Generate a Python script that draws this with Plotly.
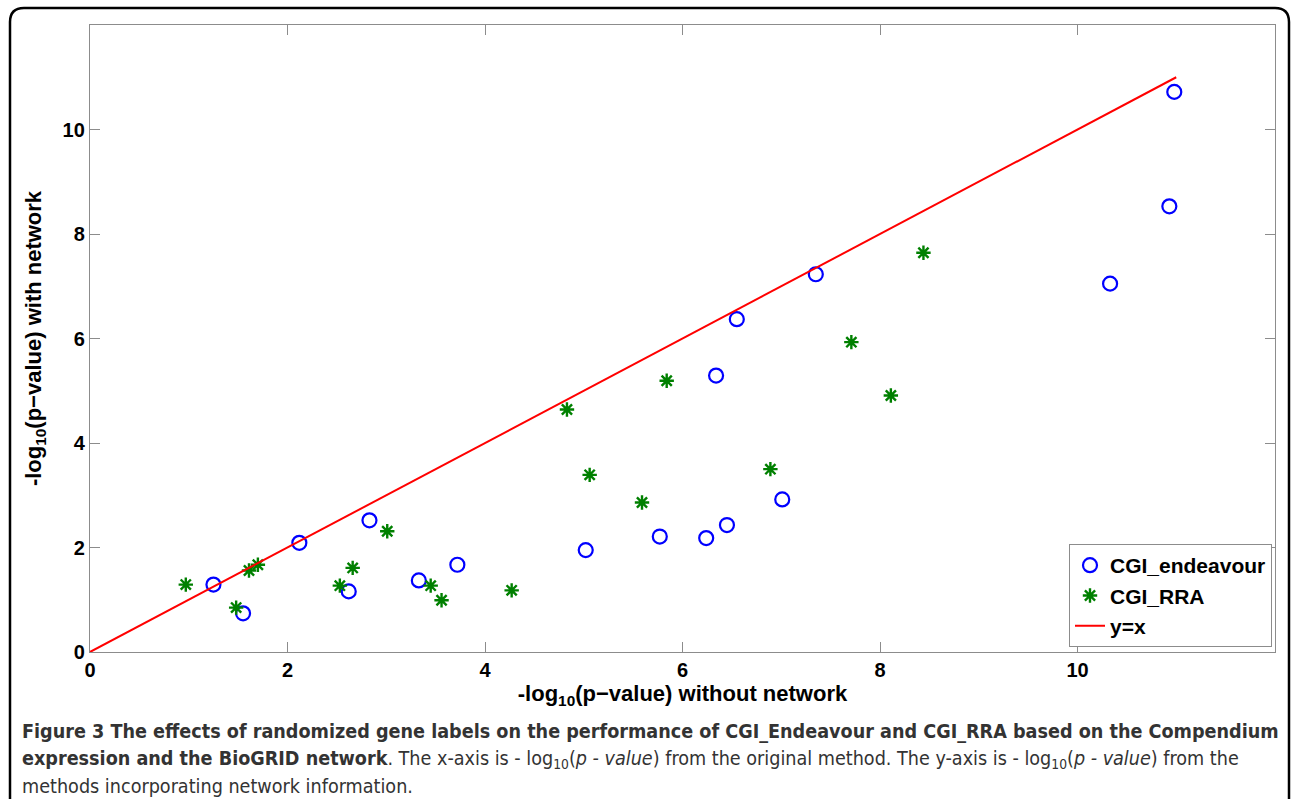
import plotly.graph_objects as go

# ---- data ----
endeavour_x = [1.25, 1.55, 2.12, 2.62, 2.83, 3.33, 3.72, 5.02, 5.77, 6.24, 6.45, 6.34, 6.55, 7.01, 7.35, 10.33, 10.93, 10.98]
endeavour_y = [1.29, 0.74, 2.09, 1.16, 2.52, 1.37, 1.67, 1.95, 2.21, 2.18, 2.43, 5.29, 6.37, 2.92, 7.23, 7.05, 8.53, 10.72]

rra_x = [0.97, 1.48, 1.61, 1.70, 2.53, 2.66, 3.01, 3.45, 3.56, 4.27, 4.83, 5.06, 5.59, 5.84, 6.89, 7.71, 8.11, 8.44]
rra_y = [1.29, 0.85, 1.56, 1.67, 1.27, 1.61, 2.31, 1.27, 0.99, 1.18, 4.64, 3.39, 2.86, 5.19, 3.50, 5.93, 4.91, 7.64]

line_x = [0, 11]
line_y = [0, 11]

x_ticks = [0, 2, 4, 6, 8, 10]
y_ticks = [0, 2, 4, 6, 8, 10]

# ---- layout geometry (pixels) ----
W, H = 1292, 799
L, R, T, B = 90, 17, 25, 147
PW, PH = W - L - R, H - T - B


def px(x):
    return (x - L) / PW


def py(y):
    return (H - B - y) / PH


SANS = "Liberation Sans, Arial, sans-serif"
TITLE_FONT = dict(family=SANS, size=22, color="black")

fig = go.Figure()
fig.add_trace(go.Scatter(
    x=endeavour_x, y=endeavour_y, mode="markers", name="<b>CGI_endeavour</b>",
    marker=dict(symbol="circle-open", size=14, color="#0000ff", line=dict(width=2.2, color="#0000ff")),
))
fig.add_trace(go.Scatter(
    x=rra_x, y=rra_y, mode="markers", name="<b>CGI_RRA</b>",
    marker=dict(symbol="asterisk-open", size=12, color="#008000", line=dict(width=2.4, color="#008000")),
))
fig.add_trace(go.Scatter(
    x=line_x, y=line_y, mode="lines", name="<b>y=x</b>",
    line=dict(color="#ff0000", width=2),
))

axis_common = dict(
    showgrid=False, zeroline=False, showline=True, linecolor="#8c8c8c", linewidth=1.3,
    mirror="ticks", ticks="inside", ticklen=10, tickcolor="#8c8c8c", tickwidth=1.3,
    tickfont=dict(family=SANS, size=20, color="black"),
)

fig.update_xaxes(
    range=[0, 12], tickvals=x_ticks, ticktext=[f"<b>{v}</b>" for v in x_ticks],
    title=dict(text="<b>-log<sub>10</sub>(p\u2212value) without network</b>", font=TITLE_FONT, standoff=2),
    **axis_common,
)
fig.update_yaxes(
    range=[0, 12], tickvals=y_ticks, ticktext=[f"<b>{v}</b>" for v in y_ticks],
    title=dict(text="<b>-log<sub>10</sub>(p\u2212value) with network</b>", font=TITLE_FONT, standoff=14),
    **axis_common,
)

# rounded outer frame
r = 14
x0, x1, y0, y1 = 10, 1289, 8, 830
path = (
    f"M {px(x0)} {py(y1)} L {px(x0)} {py(y0 + r)} Q {px(x0)} {py(y0)} {px(x0 + r)} {py(y0)} "
    f"L {px(x1 - r)} {py(y0)} Q {px(x1)} {py(y0)} {px(x1)} {py(y0 + r)} L {px(x1)} {py(y1)}"
)
fig.add_shape(type="path", path=path, xref="paper", yref="paper",
              line=dict(color="black", width=2.5), layer="below")

CAP = "Liberation Sans Narrow, DejaVu Sans Condensed, Roboto, sans-serif"
cap_lines = [
    ("<b>Figure 3 The effects of randomized gene labels on the performance of CGI_Endeavour and CGI_RRA based on the Compendium</b>", 731),
    ("<b>expression and the BioGRID network</b>. The x-axis is - log<sub>10</sub>(<i>p - value</i>) from the original method. "
     "The y-axis is - log<sub>10</sub>(<i>p - value</i>) from the", 759),
    ("methods incorporating network information.", 786),
]
for txt, yy in cap_lines:
    fig.add_annotation(text=txt, x=px(20), y=py(yy), xref="paper", yref="paper",
                       xanchor="left", yanchor="middle", showarrow=False,
                       font=dict(family=CAP, size=19.6, color="#333333"))

fig.update_layout(
    width=W, height=H, margin=dict(l=L, r=R, t=T, b=B),
    plot_bgcolor="white", paper_bgcolor="white",
    font=dict(family=SANS, color="black"),
    legend=dict(
        x=1 - 3 / PW, y=5 / PH, xanchor="right", yanchor="bottom",
        bgcolor="white", bordercolor="#8c8c8c", borderwidth=1,
        font=dict(family=SANS, size=21, color="black"),
        tracegroupgap=0, itemwidth=30,
    ),
    showlegend=True,
)

fig.write_html("out.html", config={"displayModeBar": False},
               post_script="document.body.style.margin='0';document.body.style.overflow='hidden';")
